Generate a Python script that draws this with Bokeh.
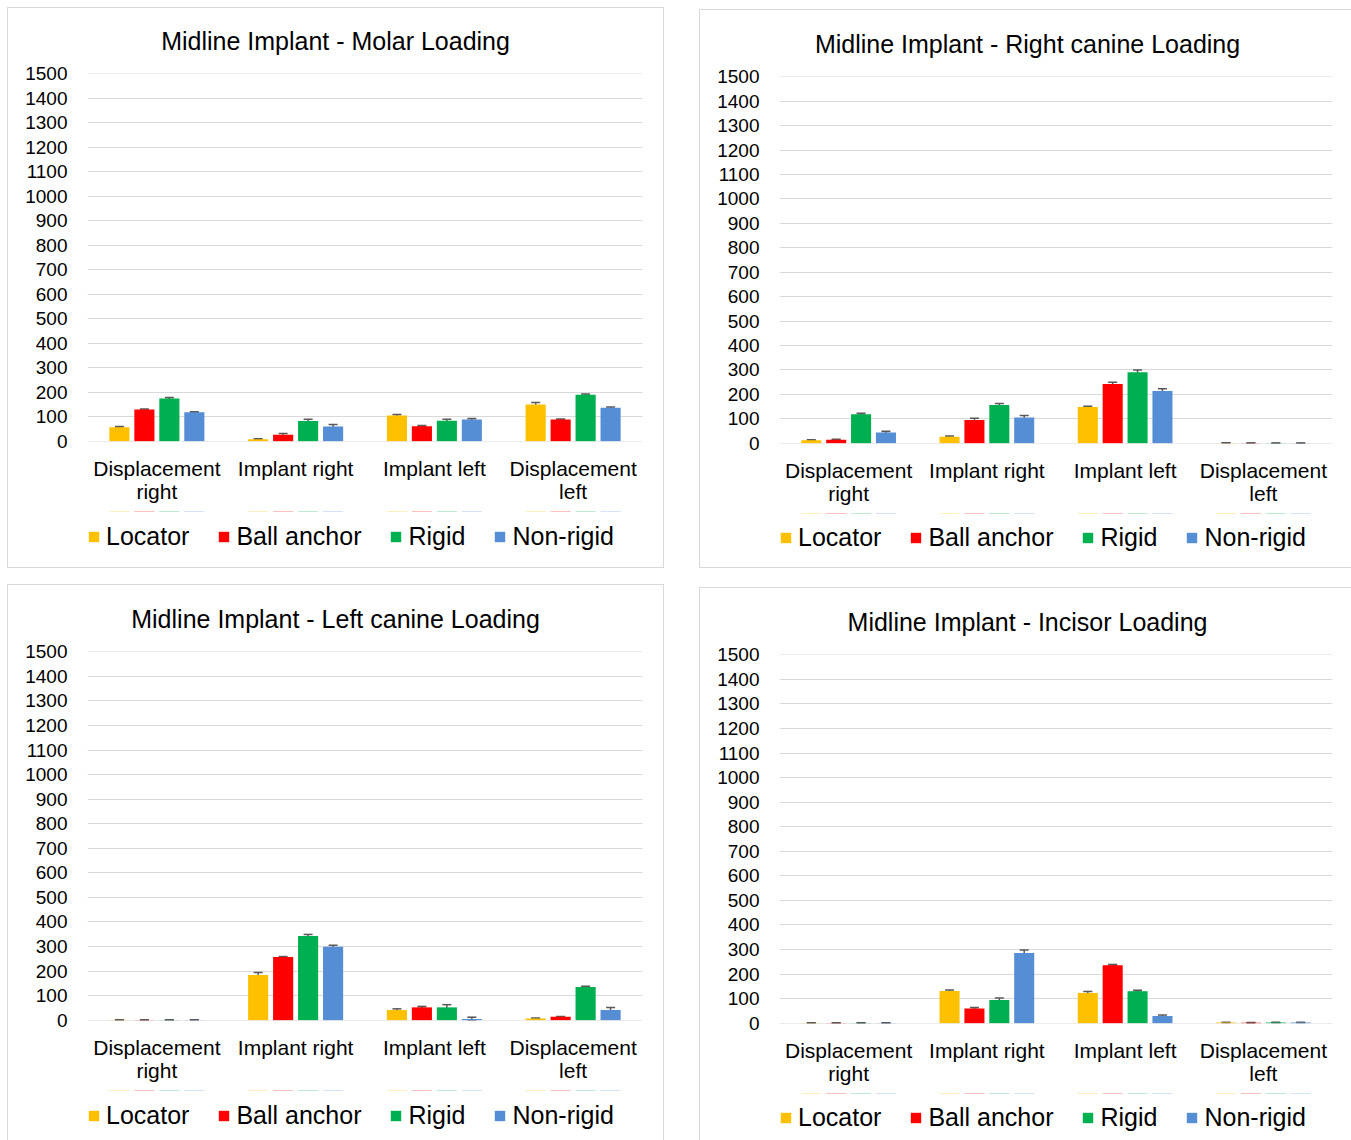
from bokeh.plotting import figure
from bokeh.models import (ColumnDataSource, Range1d, FixedTicker,
                          Legend, LegendItem, Whisker, TeeHead, Spacer, LinearAxis)
from bokeh.transform import dodge
from bokeh.layouts import row, column
from bokeh.embed import file_html
from bokeh.resources import INLINE

categories = ["Displacement right", "Implant right", "Implant left", "Displacement left"]
label_line1 = ["Displacement", "Implant right", "Implant left", "Displacement"]
label_line2 = ["right", "", "", "left"]
series_names = ["Locator", "Ball anchor", "Rigid", "Non-rigid"]
series_colors = ["#FFC000", "#FF0000", "#00B050", "#558ED5"]
y_ticks = list(range(0, 1501, 100))

# Molar loading
molar_locator = [57, 8, 105, 150]
molar_ball = [129, 26, 61, 88]
molar_rigid = [174, 82, 83, 189]
molar_nonrigid = [118, 60, 88, 136]
molar_locator_err = [3, 2, 4, 8]
molar_ball_err = [2, 5, 3, 2]
molar_rigid_err = [4, 7, 6, 3]
molar_nonrigid_err = [2, 8, 4, 3]

# Right canine loading
rcanine_locator = [12, 26, 148, 1]
rcanine_ball = [14, 95, 242, 0.5]
rcanine_rigid = [118, 156, 290, 0.5]
rcanine_nonrigid = [44, 105, 214, 0.5]
rcanine_locator_err = [2, 3, 3, 0.5]
rcanine_ball_err = [2, 7, 7, 0.3]
rcanine_rigid_err = [4, 6, 9, 0.5]
rcanine_nonrigid_err = [5, 8, 9, 0.5]

# Left canine loading
lcanine_locator = [1, 184, 41, 7]
lcanine_ball = [1, 257, 52, 14]
lcanine_rigid = [1, 343, 52, 135]
lcanine_nonrigid = [1, 299, 5, 41]
lcanine_locator_err = [0.5, 10, 5, 2]
lcanine_ball_err = [0.5, 2, 4, 1]
lcanine_rigid_err = [0.5, 6, 11, 3]
lcanine_nonrigid_err = [0.5, 6, 7, 10]

# Incisor loading
incisor_locator = [1, 131, 123, 3]
incisor_ball = [1, 60, 236, 2]
incisor_rigid = [1, 94, 130, 3]
incisor_nonrigid = [1, 286, 29, 3]
incisor_locator_err = [0.5, 4, 6, 1]
incisor_ball_err = [0.5, 4, 3, 1]
incisor_rigid_err = [0.5, 8, 4, 1]
incisor_nonrigid_err = [0.5, 12, 4, 1]

FONT = "Liberation Sans"
TITLE_SIZE = 25
LEGEND_SIZE = 25
GLYPH = 13
STANDOFF = 6
SPACING = 28
PAD = 4
AXIS_AREA = 70  # space under the frame for the two lines of category labels

# Arial advance widths (per em), used only to centre title / legend
_W = {' ': .278, '-': .333, 'M': .833, 'I': .278, 'L': .556, 'R': .722, 'B': .667,
      'N': .722, 'a': .556, 'c': .5, 'd': .556, 'e': .556, 'f': .278, 'g': .556,
      'h': .556, 'i': .222, 'l': .222, 'm': .833, 'n': .556, 'o': .556, 'p': .556,
      'r': .333, 's': .5, 't': .278}


def text_width(s, size):
    return sum(_W.get(ch, .556) for ch in s) * size


centers = [i + 0.5 for i in range(len(categories))]   # category slot centres


def style_x_axis(ax, labels, so):
    ax.ticker = FixedTicker(ticks=centers)
    ax.axis_line_color = None
    ax.major_tick_line_color = None
    ax.minor_tick_line_color = None
    ax.major_tick_out = 0
    ax.major_tick_in = 0
    ax.major_label_standoff = so
    ax.major_label_text_font = FONT
    ax.major_label_text_font_size = "21px"
    ax.major_label_text_color = "#000000"
    ax.major_label_overrides = dict(zip(centers, labels))


def make_panel(title, vals, errs, width, height, mb_left, mb_right, mb_top, frame_h,
               legend_center):
    main_h = mb_top + frame_h + AXIS_AREA
    p = figure(x_range=Range1d(0, len(categories)), y_range=Range1d(-1.5, 1501.5),
               width=width, height=main_h, output_backend="svg", toolbar_location=None,
               min_border_left=mb_left, min_border_right=mb_right,
               min_border_top=mb_top, min_border_bottom=AXIS_AREA, title=title)
    p.outline_line_color = None
    p.xgrid.grid_line_color = None
    p.ygrid.grid_line_color = "#d9d9d9"
    p.ygrid.grid_line_width = 1
    p.ygrid.ticker = FixedTicker(ticks=y_ticks)

    # legend strip under the chart (its frame is aligned with the chart frame)
    leg_h = height - main_h
    lf = figure(width=width, height=leg_h, x_range=Range1d(0, len(categories)),
                y_range=Range1d(-2, -1), output_backend="svg", toolbar_location=None,
                min_border=0, x_axis_location=None, y_axis_location=None)
    lf.title.visible = False
    lf.outline_line_color = None
    lf.xgrid.visible = False
    lf.ygrid.visible = False

    offsets = [-0.27, -0.09, 0.09, 0.27]
    items = []
    for name, color, v, e, off in zip(series_names, series_colors, vals, errs, offsets):
        src = ColumnDataSource(dict(cat=categories, pos=centers, val=v,
                                    upper=[a + b for a, b in zip(v, e)],
                                    lower=[max(a - b, 0) for a, b in zip(v, e)]))
        p.vbar(x=dodge("pos", off), top="val", width=0.145,
               source=src, fill_color=color, line_color=None)
        w = Whisker(source=src, base=dodge("pos", off),
                    upper="upper", lower="lower", line_color="#595959", line_width=1.5,
                    upper_head=TeeHead(size=9, line_color="#595959", line_width=1.5),
                    lower_head=TeeHead(size=9, line_color="#595959", line_width=1.5))
        p.add_layout(w)
        # same bars in the strip, outside its visible y range: they only feed the legend
        r = lf.vbar(x=dodge("pos", off), top="val", width=0.145,
                    source=src, fill_color=color, line_color=None)
        items.append(LegendItem(label=name, renderers=[r]))

    # title, centred 248 px right of the frame's left edge
    tw = text_width(title, TITLE_SIZE)
    p.title.align = "left"
    p.title.offset = 248 - tw / 2
    p.title.text_font = FONT
    p.title.text_font_size = f"{TITLE_SIZE}px"
    p.title.text_font_style = "normal"
    p.title.text_color = "#000000"
    p.title.vertical_align = "top"
    p.title.standoff = 34

    p.yaxis.ticker = FixedTicker(ticks=y_ticks)
    p.yaxis.axis_line_color = None
    p.yaxis.major_tick_line_color = None
    p.yaxis.minor_tick_line_color = None
    p.yaxis.major_tick_out = 0
    p.yaxis.major_tick_in = 0
    p.yaxis.major_label_standoff = 20
    p.yaxis.major_label_text_font = FONT
    p.yaxis.major_label_text_font_size = "19px"
    p.yaxis.major_label_text_color = "#000000"

    style_x_axis(p.xaxis[0], label_line1, 15)
    ax2 = LinearAxis()
    style_x_axis(ax2, label_line2, -3)
    p.add_layout(ax2, "below")

    lw = sum(GLYPH + STANDOFF + text_width(s, LEGEND_SIZE) for s in series_names) \
        + SPACING * (len(series_names) - 1) + 2 * PAD
    lh = 28 + 2 * PAD
    top_in_strip = legend_center - AXIS_AREA
    legend = Legend(items=items, orientation="horizontal",
                    location=(max(0, 251.5 - lw / 2), leg_h - top_in_strip - lh / 2 + 3),
                    label_text_font=FONT, label_text_font_size=f"{LEGEND_SIZE}px",
                    label_text_color="#000000", glyph_width=GLYPH, glyph_height=GLYPH,
                    label_standoff=STANDOFF, spacing=SPACING, border_line_color=None,
                    background_fill_alpha=0, padding=PAD, margin=0)
    lf.add_layout(legend)

    panel = column(p, lf, spacing=0)
    panel.styles = {"outline": "1px solid #d9d9d9"}
    return panel


p1 = make_panel("Midline Implant - Molar Loading",
                [molar_locator, molar_ball, molar_rigid, molar_nonrigid],
                [molar_locator_err, molar_ball_err, molar_rigid_err, molar_nonrigid_err],
                655, 559, 79, 21, 65, 368, 95)
p2 = make_panel("Midline Implant - Right canine Loading",
                [rcanine_locator, rcanine_ball, rcanine_rigid, rcanine_nonrigid],
                [rcanine_locator_err, rcanine_ball_err, rcanine_rigid_err, rcanine_nonrigid_err],
                651, 557, 79, 19, 66, 367, 94)
p3 = make_panel("Midline Implant - Left canine Loading",
                [lcanine_locator, lcanine_ball, lcanine_rigid, lcanine_nonrigid],
                [lcanine_locator_err, lcanine_ball_err, lcanine_rigid_err, lcanine_nonrigid_err],
                655, 555, 79, 21, 66, 369, 95)
p4 = make_panel("Midline Implant - Incisor Loading",
                [incisor_locator, incisor_ball, incisor_rigid, incisor_nonrigid],
                [incisor_locator_err, incisor_ball_err, incisor_rigid_err, incisor_nonrigid_err],
                651, 552, 79, 19, 66, 369, 94)

layout = column(
    Spacer(height=8),
    row(Spacer(width=8), p1, Spacer(width=37), column(Spacer(height=2), p2)),
    Spacer(height=18),
    row(Spacer(width=8), p3, Spacer(width=37), column(Spacer(height=3), p4)),
)

open("out.html", "w").write(file_html(layout, INLINE))
